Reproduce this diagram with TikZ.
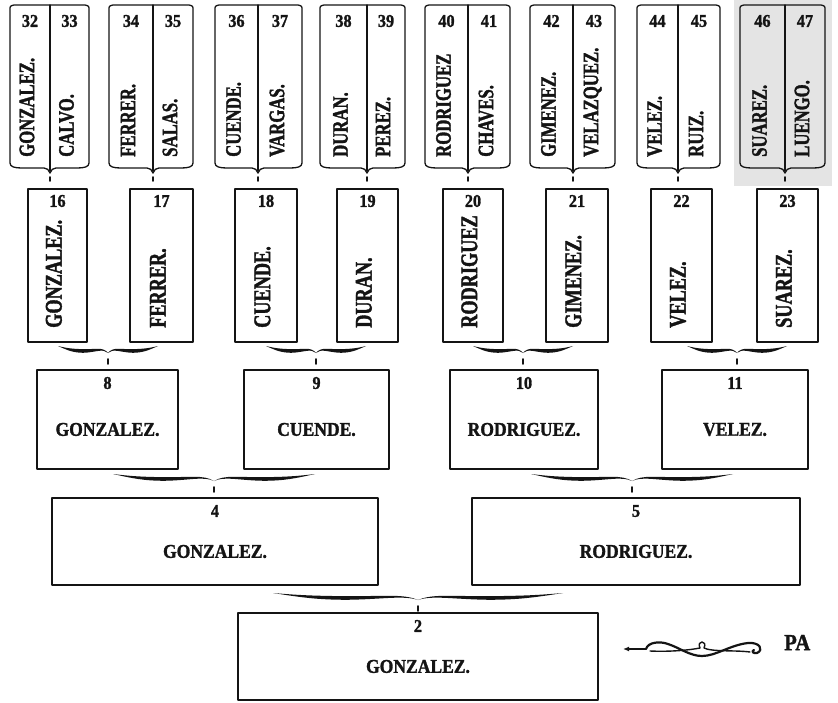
\documentclass[tikz,border=0pt]{standalone}
\usepackage{fontspec}
\usetikzlibrary{arrows.meta}
\newfontfamily\arbolwide[FakeStretch=0.9, FakeBold=1.5, UprightFont={* Bold}]{Liberation Serif}
\newfontfamily\arbolnarrow[FakeStretch=0.76, FakeBold=1.5, UprightFont={* Bold}]{Liberation Serif}
\definecolor{arbolInk}{HTML}{141414}
\definecolor{arbolShade}{HTML}{E4E4E4}
\newcommand{\arbolLineW}{1.8pt}
\newcommand{\arbolLineWthin}{1.3pt}
\tikzset{
  arbol frame/.style={draw=arbolInk, line width=\arbolLineW},
  arbol num/.style={font=\arbolwide\fontsize{18}{19}\selectfont, text=arbolInk, inner sep=0pt},
  arbol name/.style={font=\arbolwide\fontsize{19.5}{20}\selectfont, text=arbolInk, inner sep=0pt},
  arbol vname/.style={font=\arbolnarrow\fontsize{22}{23}\selectfont, text=arbolInk,
    inner sep=0pt, rotate=90, anchor=mid west},
  arbol orn/.style={draw=arbolInk, line width=2.2pt},
}

\begin{document}
\begin{tikzpicture}[x=1pt, y=-1pt, line cap=round, line join=round]
  \useasboundingbox (0,0) rectangle (838,703);

  % ===== Generation 5: paired shields 32--47 =====
  \fill[arbolShade] (734,0) rectangle (832,186);
  \foreach \xa/\xd/\xb/\na/\nb/\sura/\surb in {
      10/50/89/32/33/GONZALEZ./CALVO.,
      109/153/193/34/35/FERRER./SALAS.,
      215/258/302/36/37/CUENDE./VARGAS.,
      320/367/405/38/39/DURAN./PEREZ.,
      425/468/510/40/41/RODRIGUEZ/CHAVES.,
      530/573/615/42/43/GIMENEZ./VELAZQUEZ.,
      637/678/720/44/45/VELEZ./RUIZ.,
      740/785/825/46/47/SUAREZ./LUENGO.} {
    \draw[arbol frame, line width=\arbolLineWthin]
      (\xa,163) -- (\xa,10) .. controls (\xa,6) .. (\xa+4,5) -- (\xb-4,5)
      .. controls (\xb,6) .. (\xb,10) -- (\xb,163)
      .. controls (\xb,167) and (\xb-5,168) .. (\xb-12,168) -- (\xd+6,168)
      .. controls (\xd+3,168) and (\xd+1,170) .. (\xd,173)
      .. controls (\xd-1,170) and (\xd-3,168) .. (\xd-6,168) -- (\xa+12,168)
      .. controls (\xa+5,168) and (\xa,167) .. cycle;
    \draw[arbol frame, line width=\arbolLineWthin] (\xd,5) -- (\xd,171);
    \draw[arbol frame, line width=1.6pt] (\xd,177) -- (\xd,181);
    \node[arbol num] (n\na) at ({(\xa+\xd)/2},21) {\na};
    \node[arbol num] (n\nb) at ({(\xd+\xb)/2},21) {\nb};
    \node[arbol vname] (s\na) at ({(\xa+\xd)/2+2},157) {\sura};
    \node[arbol vname] (s\nb) at ({(\xd+\xb)/2+2},157) {\surb};
  }

  % ===== Generation 4: single columns 16--23 =====
  \foreach \xa/\xb/\num/\sur in {
      28/87/16/GONZALEZ., 130/193/17/FERRER., 235/297/18/CUENDE., 337/398/19/DURAN.,
      443/503/20/RODRIGUEZ, 546/608/21/GIMENEZ., 651/712/22/VELEZ., 757/818/23/SUAREZ.} {
    \draw[arbol frame] (\xa,189) rectangle (\xb,342);
    \node[arbol num] (n\num) at ({(\xa+\xb)/2},201) {\num};
    \node[arbol vname, font=\arbolnarrow\fontsize{24}{25}\selectfont]
      (s\num) at ({(\xa+\xb)/2+2},328) {\sur};
  }

  % ===== Generations 3, 2, 1: wide boxes =====
  \foreach \xa/\xb/\yt/\yb/\num/\sur in {
      37/178/370/469/8/GONZALEZ., 244/389/370/469/9/CUENDE.,
      450/598/370/469/10/RODRIGUEZ., 662/808/370/469/11/VELEZ.,
      52/378/498/585/4/GONZALEZ., 472/800/498/585/5/RODRIGUEZ.,
      238/598/613/700/2/GONZALEZ.} {
    \draw[arbol frame] (\xa,\yt) rectangle (\xb,\yb);
    \node[arbol num] (n\num) at ({(\xa+\xb)/2},\yt+13) {\num};
    \node[arbol name] (s\num) at ({(\xa+\xb)/2},{(\yt+\yb)/2+10}) {\sur};
  }

  % ===== Braces joining each pair to its child =====
  \foreach \m/\w/\y in {108/50/350, 316/50/350, 523/50/350, 737/50/350,
                        214/101/478, 632/101/478, 418/145/597} {
    \foreach \s in {-1,1}
      \fill[arbolInk] ({\m+\s*\w},\y-4)
        .. controls ({\m+\s*0.8*\w},\y-1.5) and ({\m+\s*0.7*\w},\y-1.2) .. ({\m+\s*0.5*\w},\y-0.8)
        .. controls ({\m+\s*0.25*\w},\y-0.5) and ({\m+\s*0.1*\w},\y-3.5) .. (\m,\y+3)
        .. controls ({\m+\s*0.1*\w},\y-2) and ({\m+\s*0.25*\w},\y+2.5) .. ({\m+\s*0.5*\w},\y+2.8)
        .. controls ({\m+\s*0.7*\w},\y+2.6) and ({\m+\s*0.8*\w},\y+0.5) .. cycle;
    \draw[arbolInk, line width=1.8pt] (\m,\y+9) -- (\m,\y+14);
  }

  % ===== Pointer ornament =====
  \node[font=\arbolwide\fontsize{23}{24}\selectfont, text=arbolInk, inner sep=0pt,
        anchor=mid west] (pa) at (784,648) {PA};
  \coordinate (ornTip) at (623,649);
  \draw[arbol orn, line width=1.6pt, {Latex[length=6pt,width=5pt]}-] (ornTip) -- (646,649);
  \draw[arbol orn]
    (646,649) .. controls (648,642) and (660,641) .. (668,644)
    .. controls (680,648) and (690,656) .. (702,656)
    .. controls (716,656) and (730,645) .. (748,643)
    .. controls (760,642) and (764,650) .. (757,653)
    .. controls (753,654) and (751,651) .. (754,650);
  \draw[arbol orn, line width=1.4pt]
    (650,651) .. controls (670,652) and (690,650) .. (700,648)
    .. controls (696,640) and (708,640) .. (704,648)
    .. controls (712,652) and (735,650) .. (750,652);
\end{tikzpicture}
\end{document}
